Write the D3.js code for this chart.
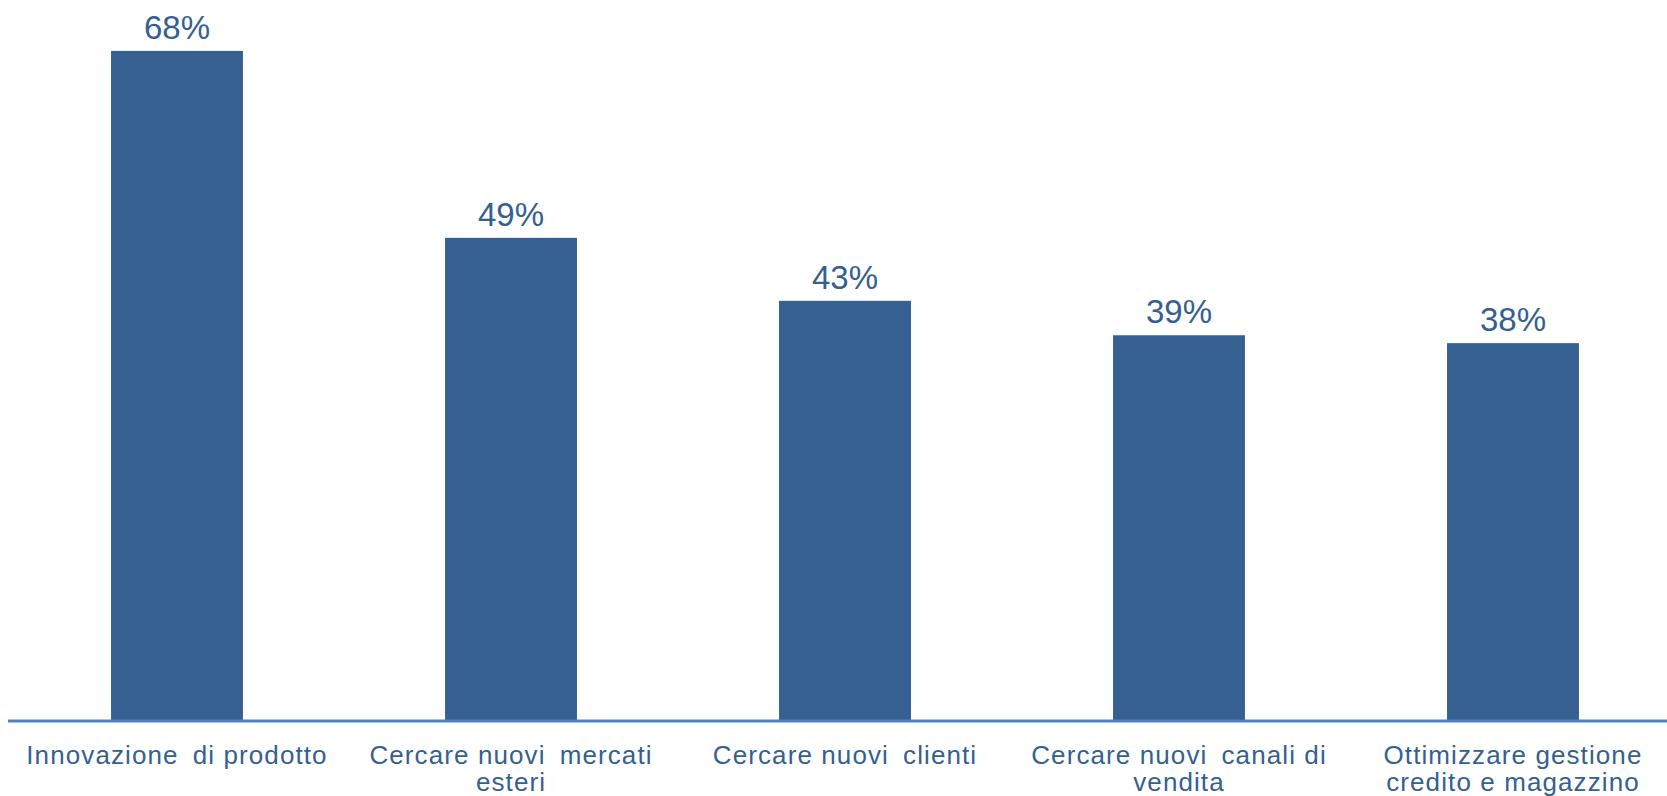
<!DOCTYPE html>
<html>
<head>
<meta charset="utf-8">
<script src="https://cdn.jsdelivr.net/npm/d3@7"></script>
<style>
  html, body { margin: 0; padding: 0; background: #ffffff; }
  svg { display: block; }
</style>
</head>
<body>
<svg id="chart" width="1667" height="796"></svg>
<script>
const categories = [
  "Innovazione di prodotto",
  "Cercare nuovi mercati esteri",
  "Cercare nuovi clienti",
  "Cercare nuovi canali di vendita",
  "Ottimizzare gestione credito e magazzino"
];
const categoryLines = [
  ["Innovazione\u2002di prodotto"],
  ["Cercare nuovi\u2002mercati", "esteri"],
  ["Cercare nuovi\u2002clienti"],
  ["Cercare nuovi\u2002canali di", "vendita"],
  ["Ottimizzare gestione", "credito e magazzino"]
];
const values = [68, 49, 42.6, 39.1, 38.3];
const valueLabels = ["68%", "49%", "43%", "39%", "38%"];

const svg = d3.select("#chart");
const baseY = 720;
const barColor = "#376092";
const textColor = "#365f91";

const x = d3.scaleBand()
  .domain(categories)
  .range([10, 1680])
  .paddingInner(0.605)
  .paddingOuter(0.3025);

const y = d3.scaleLinear()
  .domain([0, 70])
  .range([baseY, baseY - 70 * 9.84]);

svg.append("g").selectAll("rect")
  .data(categories)
  .join("rect")
  .attr("x", d => x(d))
  .attr("width", x.bandwidth())
  .attr("y", (d, i) => y(values[i]))
  .attr("height", (d, i) => baseY - y(values[i]))
  .attr("fill", barColor);

// axis baseline
svg.append("line")
  .attr("x1", 8).attr("x2", 1667)
  .attr("y1", baseY + 1).attr("y2", baseY + 1)
  .attr("stroke", "#4f81bd")
  .attr("stroke-width", 3);

// value labels
svg.append("g").selectAll("text")
  .data(categories)
  .join("text")
  .attr("x", d => x(d) + x.bandwidth() / 2)
  .attr("y", (d, i) => y(values[i]) - 12)
  .attr("text-anchor", "middle")
  .attr("font-family", "'Liberation Sans', Arial, sans-serif")
  .attr("font-size", 33)
  .attr("fill", textColor)
  .text((d, i) => valueLabels[i]);

// category labels
const cat = svg.append("g").selectAll("text")
  .data(categories)
  .join("text")
  .attr("x", d => x(d) + x.bandwidth() / 2)
  .attr("y", 764)
  .attr("text-anchor", "middle")
  .attr("font-family", "'Liberation Sans', Arial, sans-serif")
  .attr("font-size", 26)
  .attr("letter-spacing", 1.1)
  .attr("fill", textColor);

cat.each(function(d, i) {
  const t = d3.select(this);
  categoryLines[i].forEach((line, j) => {
    t.append("tspan")
      .attr("x", x(d) + x.bandwidth() / 2)
      .attr("dy", j === 0 ? 0 : 27)
      .text(line);
  });
});
</script>
</body>
</html>
